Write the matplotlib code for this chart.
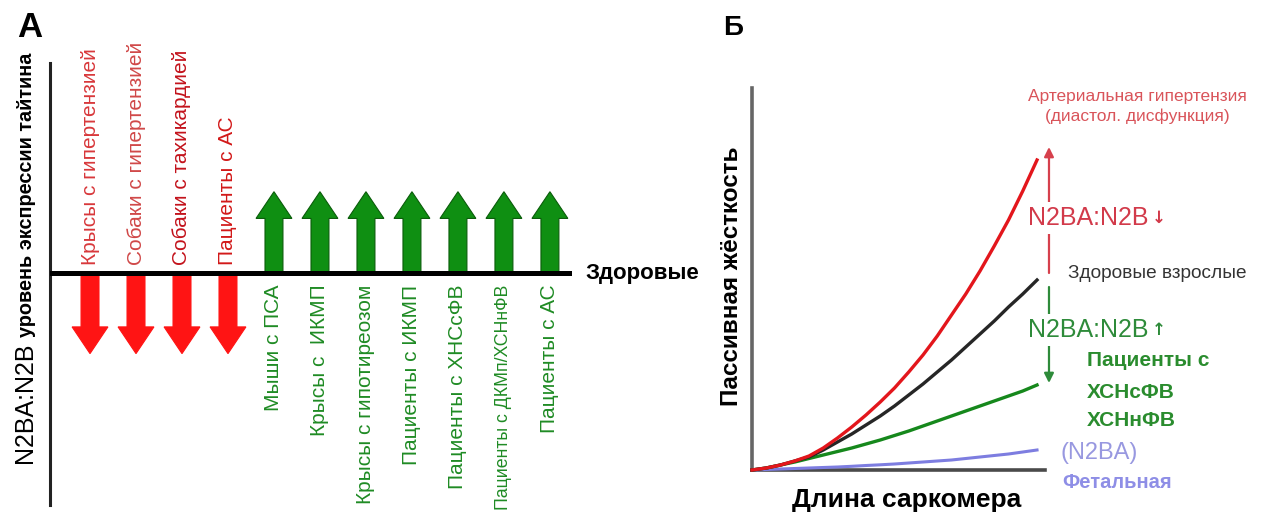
import numpy as np
import matplotlib.pyplot as plt

plt.rcParams['font.family'] = ['Liberation Sans', 'DejaVu Sans']

# Panel A: direction of the N2BA:N2B shift versus healthy myocardium
groups = ["Крысы с гипертензией", "Собаки с гипертензией", "Собаки с тахикардией",
          "Пациенты с АС", "Мыши с ПСА", "Крысы с  ИКМП", "Крысы с гипотиреозом",
          "Пациенты с ИКМП", "Пациенты с ХНСсФВ", "Пациенты с ДКМп/ХСНнФВ", "Пациенты с АС"]
ratio_shift = [-1, -1, -1, -1, 1, 1, 1, 1, 1, 1, 1]

# Panel B: passive stiffness against sarcomere length
sarcomere_len = [0, 0.05, 0.1, 0.15, 0.2, 0.25, 0.3, 0.35, 0.4, 0.45, 0.5,
                 0.55, 0.6, 0.65, 0.7, 0.75, 0.8, 0.85, 0.9, 0.95, 1.0]
stiff_hypert = [0, 0.02, 0.05, 0.09, 0.14, 0.22, 0.32, 0.43, 0.55, 0.68, 0.82,
                0.98, 1.15, 1.34, 1.55, 1.76, 1.99, 2.24, 2.50, 2.79, 3.10]
stiff_healthy = [0, 0.02, 0.05, 0.09, 0.13, 0.20, 0.28, 0.36, 0.45, 0.54, 0.64,
                 0.75, 0.86, 0.98, 1.10, 1.23, 1.36, 1.49, 1.63, 1.76, 1.90]
stiff_hf = [0, 0.02, 0.05, 0.08, 0.115, 0.15, 0.185, 0.22, 0.26, 0.30, 0.345,
            0.39, 0.44, 0.49, 0.54, 0.59, 0.64, 0.69, 0.74, 0.79, 0.85]
stiff_fetal = [0, 0.005, 0.01, 0.015, 0.02, 0.025, 0.03, 0.037, 0.045, 0.052, 0.06,
               0.07, 0.08, 0.09, 0.10, 0.115, 0.13, 0.145, 0.16, 0.18, 0.20]

W, H = 1268, 519
fig = plt.figure(figsize=(W / 100, H / 100), dpi=100)


def box(l, t, r, b):
    return [l / W, 1 - b / H, (r - l) / W, (b - t) / H]


axA = fig.add_axes(box(50, 63, 572, 505))
axB = fig.add_axes(box(752, 88, 1045, 470))
over = fig.add_axes([0, 0, 1, 1])
over.set_xlim(0, W)
over.set_ylim(H, 0)
over.axis('off')

# ---- panel A ----
red, green = '#ff1414', '#0f8f12'
down_label_colors = ['#d8383b', '#d04848', '#c3121b', '#d21818']
x = np.arange(len(groups))
axA.set_xlim(-0.87, 10.48)
axA.set_ylim(-2.87, 2.59)
for s in ['top', 'right', 'bottom']:
    axA.spines[s].set_visible(False)
axA.spines['left'].set_linewidth(2.2)
axA.spines['left'].set_color('#222222')
axA.set_xticks([])
axA.set_yticks([])
axA.axhline(0, color='black', lw=3.6, zorder=5)

k = 0
for xi, v, name in zip(x, ratio_shift, groups):
    up = v > 0
    axA.arrow(xi, 0, 0, v, width=0.39, head_width=0.78, head_length=0.33,
              length_includes_head=True, fc=green if up else red,
              ec='#0a5c0a' if up else red, lw=0.8, zorder=3)
    if up:
        fs = 12.8 if '/' in name else 15
        axA.text(xi, -0.15, name, rotation=90, ha='center', va='top',
                 fontsize=fs, color='#1f8b24')
    else:
        axA.text(xi, 0.1, name, rotation=90, ha='center', va='bottom',
                 fontsize=15, color=down_label_colors[k])
        k += 1

over.text(17, 37, 'А', fontsize=25, fontweight='bold', ha='left', va='baseline')
over.text(32, 463, 'N2BA:N2B', rotation=90, rotation_mode='anchor',
          ha='left', va='baseline', fontsize=18)
over.text(32, 337, 'уровень экспрессии тайтина', rotation=90, rotation_mode='anchor',
          ha='left', va='baseline', fontsize=14.3, fontweight='bold')
over.text(585, 273, 'Здоровые', fontsize=16, fontweight='bold', ha='left', va='center')

# ---- panel B ----
axB.plot(sarcomere_len, stiff_fetal, color='#7d7de0', lw=2.2, zorder=3, clip_on=False)
axB.plot(sarcomere_len, stiff_hf, color='#16881c', lw=2.4, zorder=3, clip_on=False)
axB.plot(sarcomere_len, stiff_healthy, color='#262626', lw=2.4, zorder=3, clip_on=False)
axB.plot(sarcomere_len, stiff_hypert, color='#e3161c', lw=2.4, zorder=3, clip_on=False)
axB.set_xlim(0, 1.028)
axB.set_ylim(0, 3.82)
for s in ['top', 'right']:
    axB.spines[s].set_visible(False)
axB.spines['left'].set_color('#666666')
axB.spines['bottom'].set_color('#4a4a4a')
axB.spines['left'].set_linewidth(2.6)
axB.spines['bottom'].set_linewidth(2.6)
axB.set_xticks([])
axB.set_yticks([])

ax_x = 1.042
axB.annotate('', xy=(ax_x, stiff_hypert[-1] + 0.13), xytext=(ax_x, stiff_healthy[-1] + 0.07),
             arrowprops=dict(arrowstyle='-|>', color='#d6404c', lw=1.6,
                             mutation_scale=14, shrinkA=0, shrinkB=0),
             annotation_clip=False)
axB.annotate('', xy=(ax_x, stiff_hf[-1] + 0.02), xytext=(ax_x, stiff_healthy[-1] - 0.07),
             arrowprops=dict(arrowstyle='-|>', color='#2e8b3a', lw=1.6,
                             mutation_scale=14, shrinkA=0, shrinkB=0),
             annotation_clip=False)

over.text(723, 35, 'Б', fontsize=20, fontweight='bold', ha='left', va='baseline')
over.text(732, 276, 'Пассивная жёсткость', rotation=90, fontsize=17.5,
          fontweight='bold', ha='center', va='center')
over.text(907, 500, 'Длина саркомера', fontsize=19, fontweight='bold',
          ha='center', va='center')

over.text(1137, 96, 'Артериальная гипертензия', fontsize=12.5, color='#d9545a',
          ha='center', va='center')
over.text(1137, 116, '(диастол. дисфункция)', fontsize=12.5, color='#d9545a',
          ha='center', va='center')

# ratio labels sit over the arrows, with a white patch breaking the shaft
for yy, col, sign in [(218, '#d23a4a', '↓'), (330, '#2e8b3a', '↑')]:
    over.text(1028, yy, 'N2BA:N2B', fontsize=18, color=col, ha='left', va='center',
              bbox=dict(facecolor='white', edgecolor='none', pad=3))
    over.text(1152, yy, sign, fontsize=12, fontweight='bold', color=col,
              ha='left', va='center', family='DejaVu Sans')

over.text(1068, 273, 'Здоровые взрослые', fontsize=13.7, color='#333333',
          ha='left', va='center')
for txt, yy in [('Пациенты с', 360), ('ХСНсФВ', 392), ('ХСНнФВ', 420)]:
    over.text(1087, yy, txt, fontsize=15, fontweight='bold', color='#2a8c2e',
              ha='left', va='center')
over.text(1060, 453, '(N2BA)', fontsize=17, color='#9898e0', ha='left', va='center')
over.text(1062, 482, 'Фетальная', fontsize=14.5, fontweight='bold', color='#8e8ee6',
          ha='left', va='center')

fig.savefig('out.png', dpi=100)
